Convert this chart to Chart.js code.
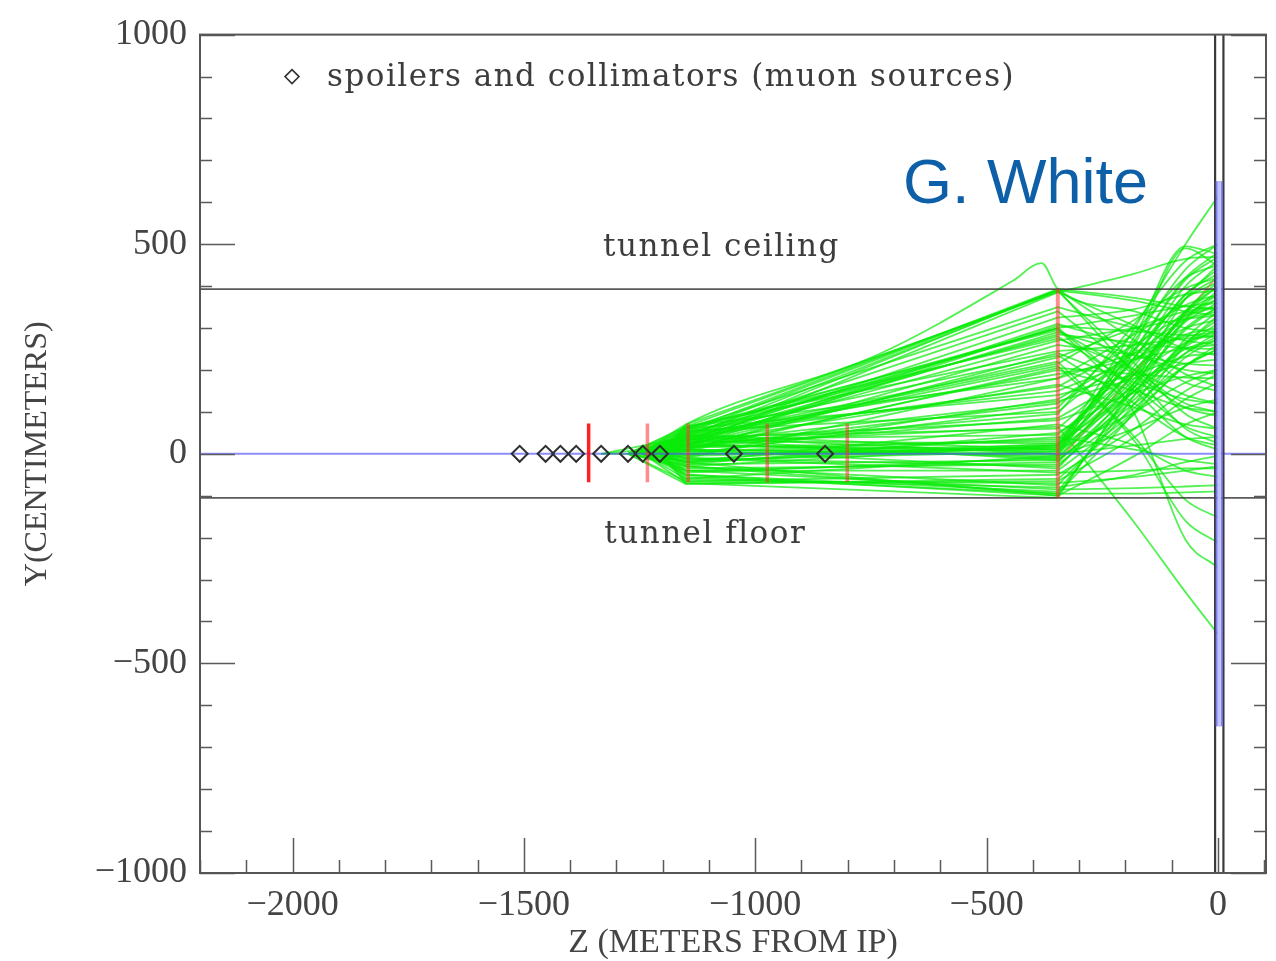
<!DOCTYPE html>
<html>
<head>
<meta charset="utf-8">
<title>Muon tracks from spoilers and collimators</title>
<script src="https://cdn.jsdelivr.net/npm/chart.js@4.4.0/dist/chart.umd.min.js"></script>
<style>
  html, body { margin: 0; background: #fff; }
  #wrap { width: 1276px; height: 961px; position: relative; }
</style>
</head>
<body>
<div id="wrap"><canvas id="muons"></canvas></div>
<script>
// axis ranges and labelled ticks
const zMin = -2200, zMax = 104;
const yMin = -1000, yMax = 1000;
const zTickLabels = [-2000, -1500, -1000, -500, 0];
const yTickLabels = [-1000, -500, 0, 500, 1000];

// spoilers and collimators (muon sources), all on the beam line
const sourceZ = [-1509, -1453, -1421, -1387, -1333, -1275, -1243, -1206, -1046, -849];

// magnetized spoiler walls
const spoilerZ = [-1360, -1233, -1145, -974, -801, -346];
const spoilerTop = [72, 72, 72, 72, 72, 393];
const spoilerBottom = [-68, -68, -68, -68, -68, -105];

// tunnel and detector
const tunnelCeiling = 393;
const tunnelFloor = -105;
const detectorEdgeZ = [-6, 12];
const detectorZ = 3;
const detectorY = [650, -650];

// muon tracks: start z on the beam line, then y (cm) at each knot
const knotZ = [-1150, -346, -180, -70, 0];
const trackStartZ = [
  -1243, -1206, -1275, -1243, -1206, -1333, -1243,
  -1243, -1206, -1275, -1243, -1206, -1243, -1275, -1206, -1243, -1333, -1206, -1243,
  -1206, -1243, -1275, -1206, -1243, -1206, -1275, -1243, -1206, -1243,
  -1243, -1206, -1275, -1243, -1206, -1243, -1206,
  -1206, -1243, -1275, -1206, -1243, -1206, -1333, -1243, -1206, -1275, -1243, -1275, -1206, -1243, -1206, -1243, -1243, -1206,
  -1206, -1243, -1275, -1206, -1243, -1243, -1275, -1206, -1243,
  -1206, -1243, -1275, -1206, -1243, -1275, -1206, -1243, -1206, -1275, -1243, -1206, -1243, -1275, -1206,
  -1243, -1206, -1275, -1243, -1206, -1243, -1275, -1206, -1243, -1206, -1243, -1275, -1206, -1243, -1206, -1275
];
const trackY1150 = [
  55, 40, 65, 30, 70, 20, 50,
  45, 60, 25, 35, 15, 50, 62, 30, 8, 40, 55, 20,
  35, 10, 45, -10, 25, 50, 5, 60, 40, 30,
  0, 20, 35, -20, 15, 40, 25,
  0, -15, 10, -30, 25, -5, 0, -40, 30, -25, 15, 20, -10, 5, -60, 40, 10, -20,
  -55, -40, -65, -20, -70, -30, -72, -50, -60,
  60, 45, 30, 10, 65, 20, 50, -5, 25, 55, 15, -25, 35, -15, 5,
  -45, 20, -35, 0, 35, -20, 45, -40, 10, -65, -50, -30, -70, -10, 65, 40
];
const trackY346 = [
  393, 390, 388, 392, 386, 385, 391,
  300, 295, 290, 285, 305, 280, 275, 270, 260, 300, 300, 310,
  215, 200, 190, 180, 165, 150, 205, 140, 220, 210,
  110, 95, 80, 70, 120, 60, 65,
  10, 5, -5, 20, -10, 15, 0, -20, 25, -15, 30, 10, -30, 20, -5, 0, 0, 20,
  -95, -85, -70, -100, -105, -75, -60, -100, -80,
  350, 340, 325, 240, 245, 230, 235, 130, 125, 100, 85, 50, 45, 40, 35,
  -10, 5, -25, 15, -15, 25, 10, -40, -35, -50, -90, -95, -65, -45, 180, 160
];
const trackY180 = [
  372, 365, 215, 270, 305, 430, 190,
  150, 190, 235, 265, 292, 160, 200, 300, 235, 330, 95, 250,
  320, 150, 225, 285, 110, 225, 190, 190, 40, 30,
  290, 310, 145, 20, 225, 220, -165,
  300, 270, 245, 230, 190, 200, 170, 150, 150, 120, 230, 100, 140, 190, 60, 20, 280, 260,
  -95, -82, -55, 160, 170, 120, 95, -5, -50,
  300, 200, 345, 170, 260, 300, 120, 240, 180, 250, 190, 160, 200, 10, 230,
  170, 210, 110, 180, 130, 250, 150, 100, 160, 60, 140, 100, 40, -40, 240, 260
];
const trackY70 = [
  352, 340, 95, 190, 250, 465, 60,
  40, 110, 200, 252, 283, 65, 140, 322, 215, 352, -205, 170,
  395, 110, 252, 355, 70, 285, 182, 232, -110, -160,
  420, 460, 185, -40, 300, 340, -330,
  500, 440, 415, 380, 335, 325, 295, 265, 240, 210, 380, 170, 255, 315, 110, 35, 495, 490,
  -92, -78, -40, 340, 370, 275, 210, 70, -20,
  270, 120, 380, 130, 275, 340, 40, 320, 215, 370, 265, 250, 330, -15, 400,
  320, 370, 230, 340, 240, 420, 260, 210, 300, 150, 320, 260, 130, -35, 280, 330
];
const trackY0 = [
  345, 330, 60, 160, 235, 470, 25,
  10, 90, 190, 250, 280, 40, 120, 330, 210, 360, -271, 150,
  420, 100, 260, 380, 60, 300, 180, 240, -152, -212,
  450, 500, 200, -55, 320, 380, -430,
  614, 500, 470, 430, 400, 380, 350, 320, 280, 250, 440, 200, 300, 360, 130, 40, 476, 448,
  -90, -75, -30, 410, 450, 340, 260, 100, -5,
  260, 100, 390, 120, 280, 350, 20, 340, 225, 410, 290, 270, 370, -25, 460,
  370, 420, 275, 400, 290, 480, 310, 250, 350, 190, 390, 330, 170, -35, 290, 350
];

// the one track that clears the ceiling before the last wall
const highTrackZ = [-1243, -1150, -732, -444, -381, -346, -180, -70, 0];
const highTrackY = [0, 70, 238, 412, 455, 393, 340, 300, 290];

// a track drawn in red, mostly hidden under the green ones
const redTrackZ = [-346, 0];
const redTrackY = [-20, 425];

const green = 'rgba(10, 235, 10, 0.7)';
const pts = (zs, ys) => zs.map((z, i) => ({ x: z, y: ys[i] }));
const segment = (zs, ys, color, width, order, extra) =>
  Object.assign({ data: pts(zs, ys), showLine: true, pointRadius: 0, borderColor: color,
    borderWidth: width, fill: false, order }, extra || {});

const datasets = [];

datasets.push({
  data: sourceZ.map(z => ({ x: z, y: 0 })),
  pointStyle: 'rectRot', pointRadius: 8, borderColor: '#2e2e2e',
  backgroundColor: 'rgba(0,0,0,0)', borderWidth: 2, order: 0
});

spoilerZ.forEach((z, i) => {
  const color = i === 0 ? 'rgba(255, 20, 20, 0.95)' : 'rgba(255, 45, 45, 0.55)';
  datasets.push(segment([z, z], [spoilerTop[i], spoilerBottom[i]], color, i === 5 ? 4 : 3.5, 1));
});

// detector face: light fill inside a blue outline
datasets.push(segment([detectorZ, detectorZ], detectorY, '#c2c2fc', 3.5, 1));
datasets.push(segment([detectorZ, detectorZ], detectorY, 'rgba(105, 105, 235, 0.8)', 7.5, 1));
detectorEdgeZ.forEach(z => {
  datasets.push(segment([z, z], [yMax, yMin], '#3a3a3a', 2.2, 1));
});

datasets.push(segment([zMin, zMax], [0, 0], 'rgba(80, 80, 255, 0.65)', 2, 2));
datasets.push(segment([zMin, zMax], [tunnelCeiling, tunnelCeiling], 'rgba(60, 60, 60, 0.85)', 1.8, 2));
datasets.push(segment([zMin, zMax], [tunnelFloor, tunnelFloor], 'rgba(60, 60, 60, 0.85)', 1.8, 2));

trackStartZ.forEach((z0, i) => {
  // straight flight through the collimators up to the last wall
  datasets.push(segment([z0, knotZ[0], knotZ[1]], [0, trackY1150[i], trackY346[i]], green, 1.8, 3));
  // bent path between the wall and the detector
  datasets.push(segment(knotZ.slice(1), [trackY346[i], trackY180[i], trackY70[i], trackY0[i]],
    green, 1.8, 3, { cubicInterpolationMode: 'monotone' }));
});
datasets.push(segment(highTrackZ, highTrackY, green, 1.8, 3, { cubicInterpolationMode: 'monotone' }));
datasets.push(segment(redTrackZ, redTrackY, 'rgba(255, 110, 110, 0.75)', 2, 4));

const signed = v => (v < 0 ? '\u2212' + Math.abs(v) : String(v));

// frame plus inward tick marks on left, right and bottom
const frameTicks = {
  id: 'frameTicks',
  afterDatasetsDraw(chart) {
    const { ctx, chartArea: a, scales: { x, y } } = chart;
    ctx.save();
    ctx.strokeStyle = '#5a5a5a';
    ctx.lineWidth = 1.5;
    ctx.beginPath();
    for (let v = -2200; v <= 100; v += 100) {
      const px = Math.round(x.getPixelForValue(v)) + 0.5;
      const len = v % 500 === 0 ? 35 : 13;
      ctx.moveTo(px, a.bottom);
      ctx.lineTo(px, a.bottom - len);
    }
    for (let v = yMin; v <= yMax; v += 100) {
      const py = Math.round(y.getPixelForValue(v)) + 0.5;
      const len = v % 500 === 0 ? 35 : 12;
      ctx.moveTo(a.left, py);
      ctx.lineTo(a.left + len, py);
      ctx.moveTo(a.right, py);
      ctx.lineTo(a.right - len, py);
    }
    ctx.stroke();
    ctx.lineWidth = 2;
    ctx.strokeStyle = '#555';
    ctx.strokeRect(a.left, a.top, a.right - a.left, a.bottom - a.top);
    ctx.restore();
  },
  afterDraw(chart) {
    const { ctx, chartArea: a, scales: { x, y } } = chart;
    ctx.save();
    ctx.fillStyle = '#3c3c3c';
    ctx.font = '31px "DejaVu Serif"';
    ctx.letterSpacing = '1.5px';
    ctx.textBaseline = 'middle';
    ctx.textAlign = 'center';
    ctx.fillText('tunnel ceiling', x.getPixelForValue(-1073), y.getPixelForValue(490));
    ctx.fillText('tunnel floor', x.getPixelForValue(-1108), y.getPixelForValue(-193));

    // legend entry
    const lx = a.left + 92, ly = a.top + 42;
    ctx.strokeStyle = '#333';
    ctx.lineWidth = 1.6;
    ctx.beginPath();
    ctx.moveTo(lx, ly - 7);
    ctx.lineTo(lx + 7, ly);
    ctx.lineTo(lx, ly + 7);
    ctx.lineTo(lx - 7, ly);
    ctx.closePath();
    ctx.stroke();
    ctx.textAlign = 'left';
    ctx.fillText('spoilers and collimators (muon sources)', lx + 35, ly + 1);

    ctx.letterSpacing = '0px';
    ctx.fillStyle = '#0d5fa8';
    ctx.font = '63px "Liberation Sans"';
    ctx.textBaseline = 'alphabetic';
    ctx.fillText('G. White', 903, 203);
    ctx.restore();
  }
};

const tickFont = { family: 'Liberation Serif', size: 36 };

new Chart(document.getElementById('muons'), {
  type: 'scatter',
  data: { datasets },
  options: {
    responsive: true,
    maintainAspectRatio: false,
    animation: false,
    events: [],
    layout: { padding: { top: 32, right: 10, left: 0, bottom: 0 } },
    plugins: { legend: { display: false }, tooltip: { enabled: false } },
    scales: {
      x: {
        type: 'linear', min: zMin, max: zMax,
        grid: { display: false, drawTicks: false },
        border: { display: false },
        afterBuildTicks: s => { s.ticks = zTickLabels.map(v => ({ value: v })); },
        afterFit: s => { s.height = 88; },
        ticks: { padding: 11, color: '#444', font: tickFont, maxRotation: 0, autoSkip: false, callback: signed },
        title: { display: true, text: 'Z (METERS FROM IP)', color: '#444',
          font: { family: 'Liberation Serif', size: 34, lineHeight: 1 }, padding: { top: 0, bottom: 1 } }
      },
      y: {
        type: 'linear', min: yMin, max: yMax,
        grid: { display: false, drawTicks: false },
        border: { display: false },
        afterBuildTicks: s => { s.ticks = yTickLabels.map(v => ({ value: v })); },
        afterFit: s => { s.width = 200; },
        ticks: { padding: 13, color: '#444', font: tickFont, autoSkip: false, callback: signed },
        title: { display: true, text: 'Y(CENTIMETERS)', color: '#444',
          font: { family: 'Liberation Serif', size: 32, lineHeight: 1 }, padding: { top: 22, bottom: 0 } }
      }
    }
  },
  plugins: [frameTicks]
});
</script>
</body>
</html>
